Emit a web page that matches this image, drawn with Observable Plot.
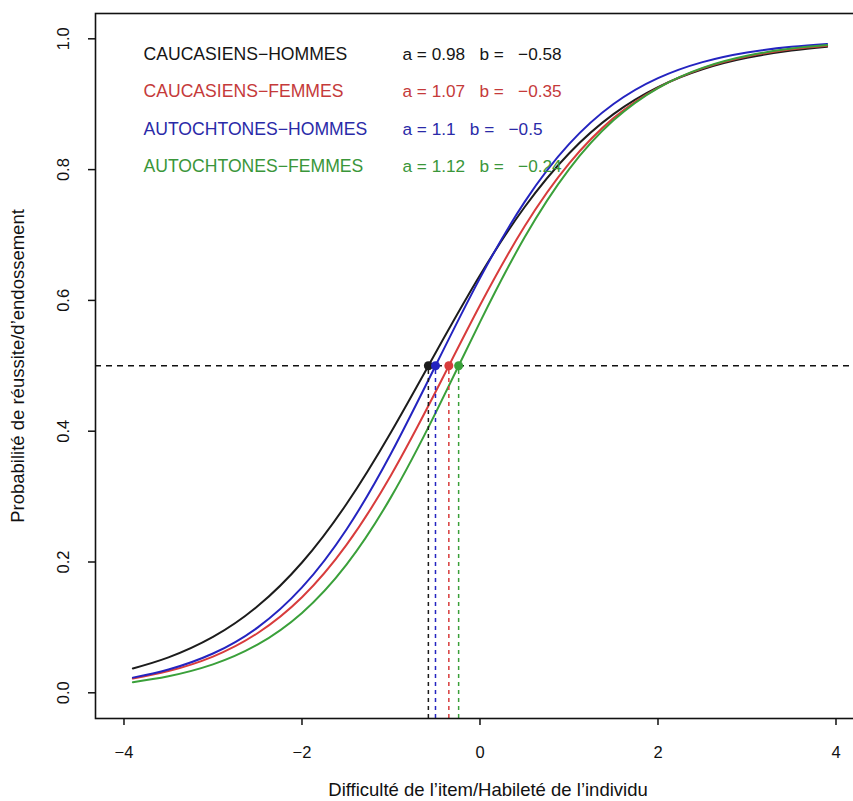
<!DOCTYPE html>
<html><head><meta charset="utf-8">
<script src="https://cdn.jsdelivr.net/npm/d3@7"></script>
<script src="https://cdn.jsdelivr.net/npm/@observablehq/plot@0.6"></script>
<style>
html,body{margin:0;padding:0;background:#fff;overflow:hidden}
#chart{width:853px;height:801px;overflow:hidden}
#chart svg{max-width:none !important}
</style></head><body><div id="chart"></div>
<script>
// Groups and IRT parameters (from legend)
const groups = ["CAUCASIENS\u2212HOMMES","CAUCASIENS\u2212FEMMES","AUTOCHTONES\u2212HOMMES","AUTOCHTONES\u2212FEMMES"];
const paramA = [0.98, 1.07, 1.1, 1.12];
const paramB = [-0.58, -0.35, -0.5, -0.24];
const lineColors = ["#1c1c1c", "#d83c3c", "#2424c0", "#3aa03a"];
const textColors = ["#151515", "#c53a3a", "#2a2aa8", "#3a963a"];

// Curve samples
const ability = [-3.9,-3.5,-3,-2.5,-2,-1.5,-1,-0.5,0,0.5,1,1.5,2,2.5,3,3.5,3.9];
const probCaucHommes = [0.0372,0.0541,0.0854,0.1322,0.1992,0.2887,0.3985,0.5196,0.6384,0.7424,0.8247,0.8848,0.9261,0.9534,0.9709,0.9820,0.9878];
const probCaucFemmes = [0.0219,0.0332,0.0554,0.0911,0.1461,0.2261,0.3328,0.4600,0.5925,0.7129,0.8091,0.8787,0.9251,0.9548,0.9730,0.9840,0.9895];
const probAutoHommes = [0.0232,0.0356,0.0601,0.0997,0.1611,0.2497,0.3659,0.5000,0.6341,0.7503,0.8389,0.9003,0.9399,0.9644,0.9792,0.9879,0.9922];
const probAutoFemmes = [0.0163,0.0253,0.0435,0.0737,0.1222,0.1960,0.2992,0.4277,0.5668,0.6961,0.8004,0.8753,0.9247,0.9556,0.9741,0.9851,0.9904];

const xTicks = [-4, -2, 0, 2, 4];
const yTicks = [0, 0.2, 0.4, 0.6, 0.8, 1.0];
const xTitle = "Difficulté de l\u2019item/Habileté de l\u2019individu";
const yTitle = "Probabilité de réussite/d\u2019endossement";

const probs = [probCaucHommes, probCaucFemmes, probAutoHommes, probAutoFemmes];
const params = groups.map((g, i) => ({group: g, a: paramA[i], b: paramB[i], color: lineColors[i], tcolor: textColors[i]}));
const curveRows = groups.flatMap((g, i) => ability.map((x, j) => ({group: g, x, p: probs[i][j], color: lineColors[i]})));

const yDomain = [-0.0393, 1.0387];
const fmtNum = v => (v < 0 ? "\u2212" : "") + Math.abs(v);
const sp = "\u00a0";

const legendMarks = params.flatMap((s, i) => [
  Plot.text([s.group], {frameAnchor: "top-left", dx: 48, dy: 40.5 + 37.6 * i, text: d => d, textAnchor: "start", lineAnchor: "middle", fill: s.tcolor, fontSize: 17.6}),
  Plot.text([s], {frameAnchor: "top-left", dx: 307, dy: 40.5 + 37.6 * i, text: d => `a = ${d.a} ${sp}${sp}b = ${sp}${sp}${fmtNum(d.b)}`, textAnchor: "start", lineAnchor: "middle", fill: s.tcolor, fontSize: 17.2})
]);

const chart = Plot.plot({
  width: 880, height: 801,
  marginLeft: 95, marginRight: 0, marginTop: 13, marginBottom: 83,
  x: {domain: [-4.32, 4.5], axis: null},
  y: {domain: yDomain, axis: null},
  color: {type: "identity"},
  style: {fontFamily: "'Liberation Sans', Arial, Helvetica, sans-serif", background: "white", color: "#111", maxWidth: "none"},
  marks: [
    Plot.line(curveRows, {x: "x", y: "p", z: "group", stroke: "color", strokeWidth: 2, curve: "natural"}),
    Plot.ruleY([0.5], {stroke: "#111", strokeWidth: 1.5, strokeDasharray: "6,5"}),
    Plot.ruleX(params, {x: "b", y1: yDomain[0], y2: 0.5, stroke: "color", strokeWidth: 1.5, strokeDasharray: "4,4"}),
    Plot.dot(params, {x: "b", y: () => 0.5, r: 4.5, fill: "color", stroke: null}),
    Plot.frame({stroke: "#111", strokeWidth: 1.6}),
    Plot.axisX({ticks: xTicks, anchor: "bottom", tickSize: 7, strokeWidth: 1.5, tickFormat: () => "", label: null}),
    Plot.axisY({ticks: yTicks, anchor: "left", tickSize: 7, strokeWidth: 1.5, tickFormat: () => "", label: null}),
    Plot.text(xTicks, {x: d => d, text: fmtNum, frameAnchor: "bottom", dy: 34, textAnchor: "middle", lineAnchor: "middle", fontSize: 16.5, fill: "#111"}),
    Plot.text(yTicks, {y: d => d, text: d => d.toFixed(1), frameAnchor: "left", dx: -32, rotate: -90, textAnchor: "middle", lineAnchor: "middle", fontSize: 16.5, fill: "#111"}),
    Plot.text([xTitle], {frameAnchor: "bottom", dy: 72, text: d => d, textAnchor: "middle", lineAnchor: "middle", fontSize: 18.5, fill: "#111"}),
    Plot.text([yTitle], {frameAnchor: "left", dx: -77, rotate: -90, text: d => d, textAnchor: "middle", lineAnchor: "middle", fontSize: 18.5, fill: "#111"}),
    ...legendMarks
  ]
});
document.getElementById("chart").appendChild(chart);
</script></body></html>
